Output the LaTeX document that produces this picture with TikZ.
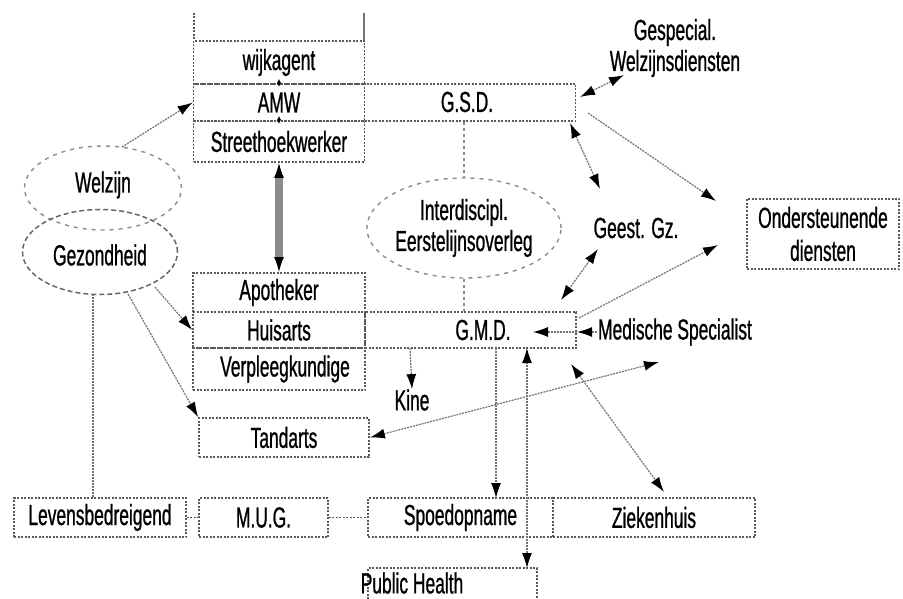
\documentclass[tikz,border=0pt]{standalone}
\usepackage{fontspec}
\setmainfont[FakeStretch=0.6,FakeBold=0.8]{Liberation Sans}
\usetikzlibrary{arrows.meta,shapes.geometric}
\begin{document}
\begin{tikzpicture}[x=1pt,y=-1pt,
  font=\fontsize{29}{31}\selectfont,
  boxline/.style={draw=black!65,line width=1.8pt,dash pattern=on 2pt off 1.5pt},
  cell/.style={boxline,rectangle,inner sep=0pt},
  lbl/.style={inner sep=1pt,align=center},
  conn/.style={draw=black!55,line width=1.2pt,dash pattern=on 2pt off 1pt},
  tip/.style={-{Latex[length=15pt,width=10pt,color=black]}},
  tips/.style={{Latex[length=15pt,width=10pt,color=black]}-{Latex[length=15pt,width=10pt,color=black]}},
  smalltips/.style={{Latex[length=4pt,width=4pt]}-{Latex[length=4pt,width=4pt]}},
  oval/.style={ellipse,draw=black!60,line width=1.5pt,dash pattern=on 5pt off 3pt,inner sep=0pt},
  ovallight/.style={ellipse,draw=black!45,line width=1.4pt,dash pattern=on 4pt off 5pt,inner sep=0pt}]
\useasboundingbox (0,0) rectangle (903,599);
\fill[white] (0,0) rectangle (903,599);

% top column
\draw[boxline] (194,13) -- (194,41);
\draw[draw=black!55,line width=1.4pt] (364,13) -- (364,41);
\node[cell,minimum width=171pt,minimum height=43pt] (wijk) at (279,62.5) {wijkagent};
\node[cell,minimum width=171pt,minimum height=37pt] (amw) at (279,102.5) {AMW};
\node[cell,minimum width=211pt,minimum height=37pt] (gsd) at (470,102.5) {};
\node[lbl] (gsdl) at (467,102) {G.S.D.};
\node[cell,minimum width=171pt,minimum height=41pt] (shw) at (279,141.5) {Streethoekwerker};

% middle block
\node[cell,minimum width=172pt,minimum height=39pt] (apo) at (279,292.5) {Apotheker};
\node[cell,minimum width=172pt,minimum height=36pt] (huis) at (279,330) {Huisarts};
\node[cell,minimum width=211pt,minimum height=36pt] (gmd) at (470.5,330) {};
\node[lbl] (gmdl) at (483,330) {G.M.D.};
\node[cell,minimum width=172pt,minimum height=42pt] (verp) at (279,369) {};
\node[lbl] (verpl) at (285,369) {Verpleegkundige};
\node[cell,minimum width=170pt,minimum height=39pt] (tand) at (284,437.5) {Tandarts};

% bottom row
\node[cell,minimum width=172pt,minimum height=39pt] (lev) at (100,517.5) {Levensbedreigend};
\node[cell,minimum width=129pt,minimum height=39pt] (mug) at (263.5,517.5) {M.U.G.};
\node[cell,minimum width=185pt,minimum height=39pt] (spoed) at (460.5,517.5) {Spoedopname};
\node[cell,minimum width=202pt,minimum height=39pt] (zkh) at (654,517.5) {Ziekenhuis};
\draw[boxline] (368,599) -- (368,568) -- (537,568) -- (537,599);
\node[lbl,inner sep=0pt] (ph) at (412,583) {Public Health};
\coordinate (phtop) at (527,568);

% right side
\node[cell,minimum width=152pt,minimum height=70pt,align=center] (ond) at (823,234)
  {Ondersteunende\\[2pt]diensten};
\node[lbl] (gespec) at (675,48) {Gespecial.\\Welzijnsdiensten};
\node[lbl] (geest) at (636,228) {Geest. Gz.};
\node[lbl] (ms) at (675,332) {Medische Specialist};
\node[lbl,inner sep=0pt] (kine) at (412,400) {Kine};

% ovals
\node[ovallight,minimum width=157pt,minimum height=84pt] (welz) at (103,188) {};
\node[lbl] at (103,185) {Welzijn};
\node[oval,minimum width=155pt,minimum height=85pt] (gez) at (100,252) {};
\node[lbl] at (100,255) {Gezondheid};
\node[ovallight,minimum width=168pt,minimum height=100pt,align=center] (inter) at (464,228)
  {Interdiscipl.\\Eerstelijnsoverleg};

% connectors
\coordinate (w1) at (122,147);
\coordinate (g1) at (155,287);
\coordinate (g2) at (128,294);
\coordinate (g3) at (93,294);
\draw[conn,tip] (w1) -- (amw.west);
\draw[conn,tip] (g1) -- (huis.west);
\draw[conn,tip] (g2) -- (tand.north west);
\draw[conn] (g3) -- (g3 |- lev.north);

\draw[black!45,line width=8pt,shorten <=12pt,shorten >=12pt] (shw.south) -- (apo.north);
\draw[tip,black,line width=1.4pt] ([yshift=-15pt]shw.south) -- (shw.south);
\draw[tip,black,line width=1.4pt] ([yshift=15pt]apo.north) -- (apo.north);
\draw[smalltips,black,line width=1.4pt] ([yshift=-2pt]wijk.south) -- ([yshift=6pt]wijk.south);
\draw[smalltips,black,line width=1.4pt] ([yshift=-2pt]amw.south) -- ([yshift=6pt]amw.south);

\draw[boxline,black!45,dash pattern=on 3pt off 3pt] (gsd.south -| inter.north) -- (inter.north);
\draw[boxline,black!45,dash pattern=on 3pt off 3pt] (inter.south) -- (inter.south |- gmd.north);

\coordinate (a1) at (580,97);
\coordinate (a2) at (624,75);
\draw[conn,tips] (a1) -- (a2);
\coordinate (b1) at (570,123);
\coordinate (b2) at (600,189);
\draw[conn,tips] (b1) -- (b2);
\coordinate (c1) at (588,113);
\coordinate (c2) at (716,201);
\draw[conn,tip] (c1) -- (c2);
\coordinate (d1) at (598,249);
\coordinate (d2) at (561,300);
\draw[conn,tips] (d1) -- (d2);
\coordinate (e1) at (579,318);
\coordinate (e2) at (718,245);
\draw[conn,tip] (e1) -- (e2);
\coordinate (m1) at (577,332);
\coordinate (m2) at (533,332);
\draw[conn,tip] (ms.west) -- (m1);
\draw[conn,tip] (m1) -- (m2);
\coordinate (z1) at (571,364);
\coordinate (z2) at (664,492);
\draw[conn,tips] (z1) -- (z2);
\coordinate (t2) at (659,362);
\draw[conn,tips] (tand.east) -- (t2);
\draw[conn,tip] (410,348) -- (kine.north);
\draw[conn,tip] (496,348) -- (496,498);
\draw[conn,tips] (527,348) -- (phtop);
\draw[boxline] (lev.east) -- (mug.west);
\draw[boxline] (mug.east) -- (spoed.west);
\end{tikzpicture}
\end{document}
